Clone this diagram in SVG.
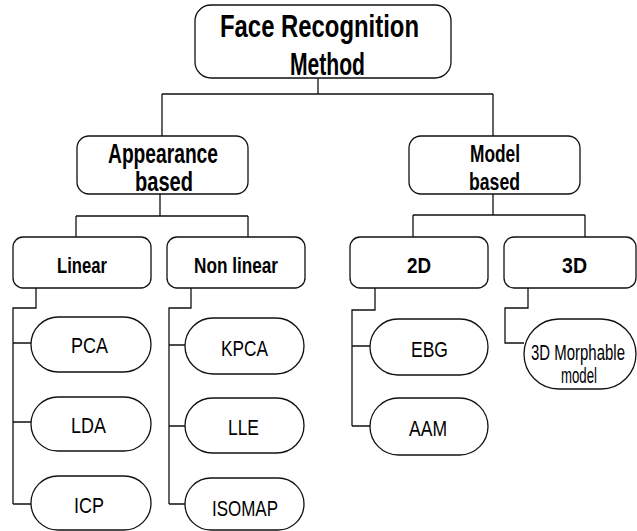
<svg xmlns="http://www.w3.org/2000/svg" width="637" height="531" viewBox="0 0 637 531">
  <style>
    .box { fill: #ffffff; stroke: #111111; stroke-width: 1.3; }
    .wire { fill: none; stroke: #111111; stroke-width: 1.3; }
    .hd { font-family: "Liberation Sans", Arial, sans-serif; font-weight: bold; fill: #000000; text-anchor: middle; }
    .lf { font-family: "Liberation Sans", Arial, sans-serif; fill: #000000; text-anchor: middle; font-size: 22px; }
  </style>

  <!-- connectors -->
  <g id="connectors">
    <path class="wire" d="M318 78 V94 M162 94 H493 M162 94 V136 M493 94 V136"/>
    <path class="wire" d="M160 194 V216 M76 216 H248 M76 216 V237 M248 216 V237"/>
    <path class="wire" d="M493 194 V215 M413 215 H585 M413 215 V237 M585 215 V237"/>
    <path class="wire" d="M36 288 V308 H13 V504 M13 343 H31 M13 422 H31 M13 504 H31"/>
    <path class="wire" d="M191 288 V308 H169 V504 M169 345 H185 M169 426 H185 M169 504 H185"/>
    <path class="wire" d="M375 288 V310 H352 V426 M352 346 H370 M352 426 H370"/>
    <path class="wire" d="M528 288 V308 H505 V343 H524"/>
  </g>

  <!-- root -->
  <g id="root">
    <rect class="box" x="195" y="5" width="256" height="73" rx="16"/>
    <text class="hd" x="319.5" y="37" font-size="31" textLength="199" lengthAdjust="spacingAndGlyphs">Face Recognition</text>
    <text class="hd" x="327.5" y="75" font-size="31" textLength="75" lengthAdjust="spacingAndGlyphs">Method</text>
  </g>

  <!-- second level -->
  <g id="appearance">
    <rect class="box" x="77" y="136" width="171" height="58" rx="12"/>
    <text class="hd" x="163" y="163" font-size="27" textLength="110" lengthAdjust="spacingAndGlyphs">Appearance</text>
    <text class="hd" x="164" y="191" font-size="27" textLength="58" lengthAdjust="spacingAndGlyphs">based</text>
  </g>
  <g id="model">
    <rect class="box" x="409" y="136" width="171" height="58" rx="12"/>
    <text class="hd" x="495" y="162" font-size="24" textLength="50" lengthAdjust="spacingAndGlyphs">Model</text>
    <text class="hd" x="494.5" y="190" font-size="24" textLength="51" lengthAdjust="spacingAndGlyphs">based</text>
  </g>

  <!-- third level -->
  <g id="linear">
    <rect class="box" x="13" y="237" width="138" height="51" rx="10"/>
    <text class="hd" x="82" y="273" font-size="22" textLength="50" lengthAdjust="spacingAndGlyphs">Linear</text>
  </g>
  <g id="nonlinear">
    <rect class="box" x="167" y="237" width="138" height="51" rx="10"/>
    <text class="hd" x="236" y="273" font-size="22" textLength="84" lengthAdjust="spacingAndGlyphs">Non linear</text>
  </g>
  <g id="twod">
    <rect class="box" x="350" y="237" width="138" height="51" rx="10"/>
    <text class="hd" x="419" y="273" font-size="22" textLength="24" lengthAdjust="spacingAndGlyphs">2D</text>
  </g>
  <g id="threed">
    <rect class="box" x="504" y="237" width="132" height="51" rx="10"/>
    <text class="hd" x="574.5" y="273" font-size="22" textLength="25" lengthAdjust="spacingAndGlyphs">3D</text>
  </g>

  <!-- leaves -->
  <g id="pca">
    <rect class="box" x="31" y="317" width="120" height="55" rx="27.5"/>
    <text class="lf" x="89.5" y="353" textLength="37" lengthAdjust="spacingAndGlyphs">PCA</text>
  </g>
  <g id="lda">
    <rect class="box" x="31" y="397" width="120" height="54" rx="27"/>
    <text class="lf" x="88.5" y="433" textLength="35" lengthAdjust="spacingAndGlyphs">LDA</text>
  </g>
  <g id="icp">
    <rect class="box" x="31" y="476" width="120" height="54" rx="27"/>
    <text class="lf" x="89" y="513" textLength="30" lengthAdjust="spacingAndGlyphs">ICP</text>
  </g>
  <g id="kpca">
    <rect class="box" x="185" y="318" width="119" height="56" rx="28"/>
    <text class="lf" x="244.5" y="356" textLength="47" lengthAdjust="spacingAndGlyphs">KPCA</text>
  </g>
  <g id="lle">
    <rect class="box" x="185" y="398" width="119" height="55" rx="27.5"/>
    <text class="lf" x="243.5" y="435" textLength="31" lengthAdjust="spacingAndGlyphs">LLE</text>
  </g>
  <g id="isomap">
    <rect class="box" x="185" y="478" width="119" height="52" rx="26"/>
    <text class="lf" x="245" y="516" textLength="66" lengthAdjust="spacingAndGlyphs">ISOMAP</text>
  </g>
  <g id="ebg">
    <rect class="box" x="370" y="319" width="118" height="56" rx="28"/>
    <text class="lf" x="429.5" y="357" textLength="37" lengthAdjust="spacingAndGlyphs">EBG</text>
  </g>
  <g id="aam">
    <rect class="box" x="370" y="398" width="118" height="57" rx="28.5"/>
    <text class="lf" x="428" y="436" textLength="38" lengthAdjust="spacingAndGlyphs">AAM</text>
  </g>
  <g id="morphable">
    <rect class="box" x="524" y="319" width="112" height="70" rx="35"/>
    <!-- horizontally condensed label via scale instead of textLength -->
    <text class="lf" transform="translate(578 360) scale(0.68 1)" x="0" y="0">3D Morphable</text>
    <text class="lf" x="579" y="383" textLength="36" lengthAdjust="spacingAndGlyphs">model</text>
  </g>
</svg>
